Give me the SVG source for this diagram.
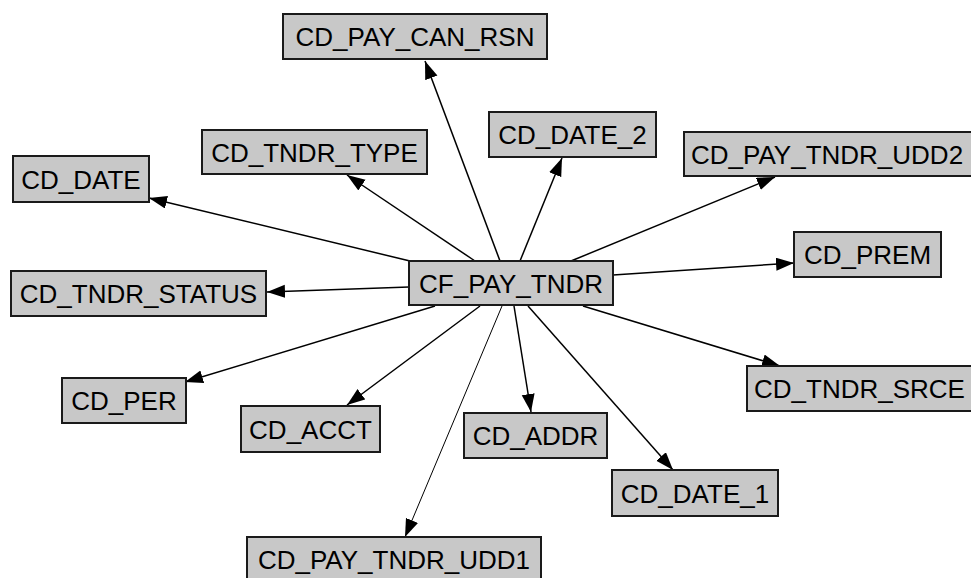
<svg xmlns="http://www.w3.org/2000/svg" width="971" height="578" viewBox="0 0 971 578">
<style>
.box{fill:#c8c8c8;stroke:#1a1a1a;stroke-width:2}
.lbl{font-family:"Liberation Sans",Arial,sans-serif;font-size:26px;fill:#000;text-anchor:middle}
.lbs{font-family:"Liberation Sans",Arial,sans-serif;font-size:26px;fill:#000;text-anchor:start}
.edge{stroke:#000;stroke-width:1.5;fill:none;marker-end:url(#arr)}
.thin{stroke-width:1}
</style>
<defs>
<marker id="arr" markerUnits="userSpaceOnUse" markerWidth="19" markerHeight="14" refX="18" refY="6.5" orient="auto">
<path d="M0,0 L18,6.5 L0,13 z" fill="#000"/>
</marker>
</defs>
<rect width="971" height="578" fill="#fff"/>
<g id="connectors">
<line class="edge" x1="500" y1="261" x2="425" y2="61"/>
<line class="edge" x1="520" y1="261" x2="562" y2="158"/>
<line class="edge" x1="571" y1="261" x2="775" y2="177"/>
<line class="edge" x1="613" y1="275" x2="794" y2="263"/>
<line class="edge" x1="583" y1="306" x2="780" y2="366"/>
<line class="edge" x1="528" y1="306" x2="673" y2="470"/>
<line class="edge" x1="514" y1="306" x2="531" y2="412"/>
<line class="edge thin" x1="502" y1="306" x2="405" y2="537"/>
<line class="edge" x1="480" y1="306" x2="347" y2="405"/>
<line class="edge" x1="435" y1="306" x2="185" y2="382"/>
<line class="edge" x1="409" y1="287" x2="267" y2="292"/>
<line class="edge" x1="410" y1="261" x2="149" y2="198"/>
<line class="edge" x1="475" y1="261" x2="347" y2="175"/>
</g>
<g id="CF_PAY_TNDR"><rect class="box" x="409" y="261" width="204" height="44"/><text class="lbl" x="511" y="293">CF_PAY_TNDR</text></g>
<g id="CD_PAY_CAN_RSN"><rect class="box" x="283" y="14" width="264" height="45"/><text class="lbl" x="415" y="46">CD_PAY_CAN_RSN</text></g>
<g id="CD_TNDR_TYPE"><rect class="box" x="202" y="130" width="225" height="44"/><text class="lbl" x="314.5" y="162">CD_TNDR_TYPE</text></g>
<g id="CD_DATE"><rect class="box" x="13" y="156" width="136" height="46"/><text class="lbl" x="81" y="189">CD_DATE</text></g>
<g id="CD_TNDR_STATUS"><rect class="box" x="11" y="271" width="255" height="45"/><text class="lbl" x="138.5" y="303">CD_TNDR_STATUS</text></g>
<g id="CD_DATE_2"><rect class="box" x="489" y="112" width="167" height="45"/><text class="lbl" x="572.5" y="144">CD_DATE_2</text></g>
<g id="CD_PAY_TNDR_UDD2"><rect class="box" x="684" y="132" width="294" height="44"/><text class="lbs" x="691" y="164">CD_PAY_TNDR_UDD2</text></g>
<g id="CD_PREM"><rect class="box" x="794" y="232" width="147" height="45"/><text class="lbl" x="867.5" y="264">CD_PREM</text></g>
<g id="CD_TNDR_SRCE"><rect class="box" x="747" y="366" width="230" height="45"/><text class="lbs" x="754" y="398">CD_TNDR_SRCE</text></g>
<g id="CD_PER"><rect class="box" x="62" y="378" width="124" height="45"/><text class="lbl" x="124" y="410">CD_PER</text></g>
<g id="CD_ACCT"><rect class="box" x="241" y="406" width="139" height="46"/><text class="lbl" x="310.5" y="439">CD_ACCT</text></g>
<g id="CD_ADDR"><rect class="box" x="464" y="413" width="143" height="45"/><text class="lbl" x="535.5" y="445">CD_ADDR</text></g>
<g id="CD_DATE_1"><rect class="box" x="612" y="470" width="166" height="46"/><text class="lbl" x="695" y="503">CD_DATE_1</text></g>
<g id="CD_PAY_TNDR_UDD1"><rect class="box" x="247" y="537" width="294" height="45"/><text class="lbl" x="394" y="569">CD_PAY_TNDR_UDD1</text></g>
</svg>
